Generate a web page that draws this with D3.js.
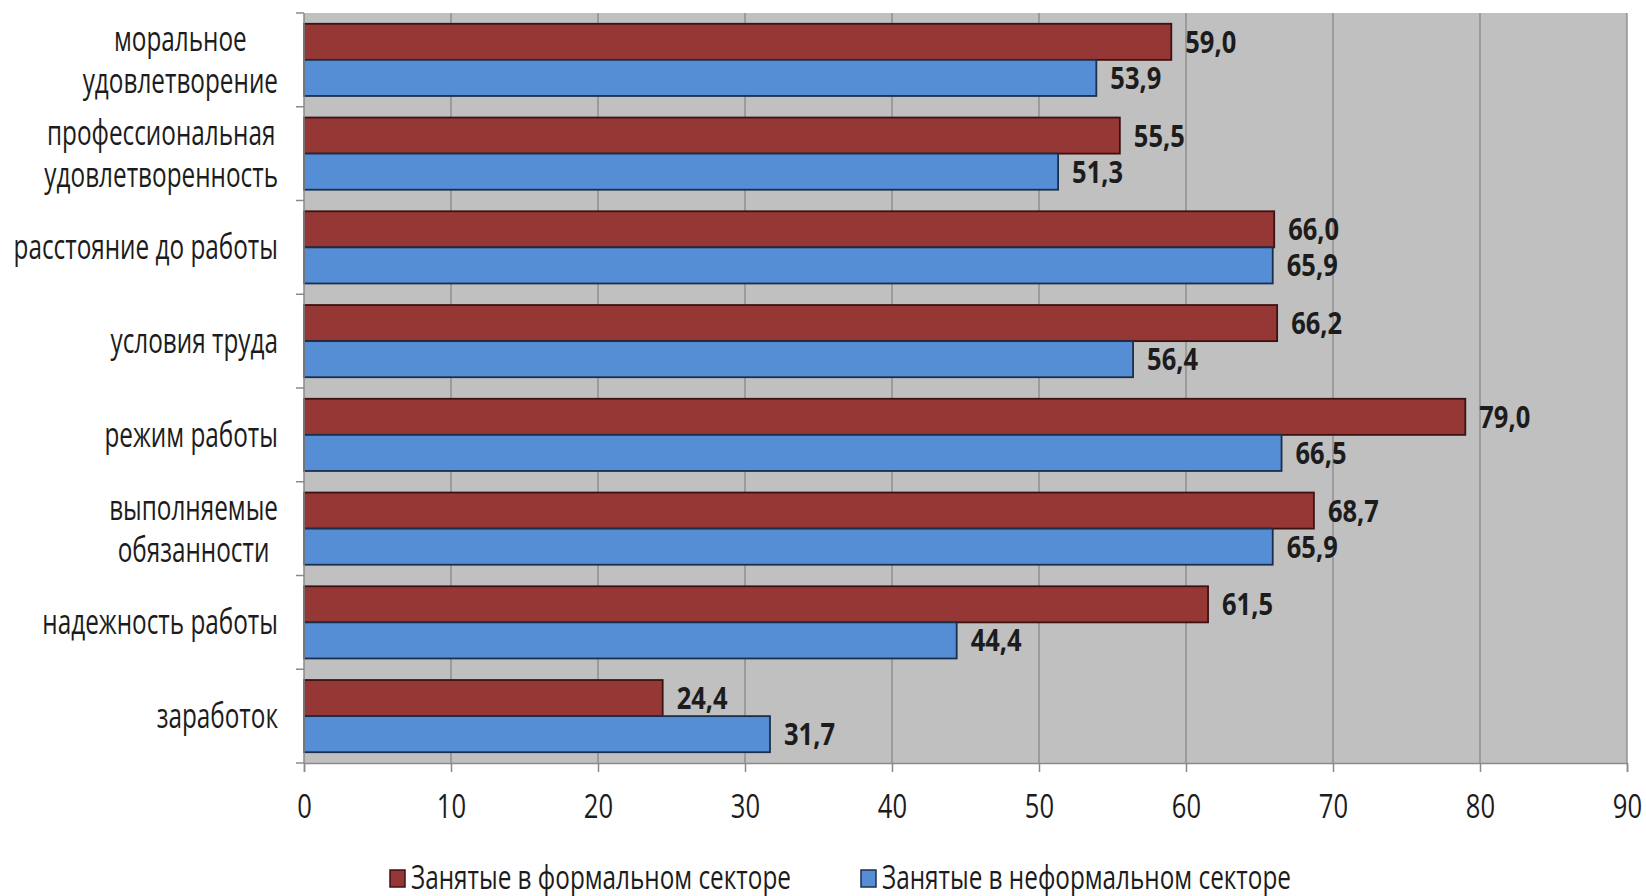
<!DOCTYPE html>
<html>
<head>
<meta charset="utf-8">
<script src="https://cdn.jsdelivr.net/npm/d3@7"></script>
<style>
  html, body { margin: 0; padding: 0; background: #ffffff; }
  svg { display: block; }
  text { font-family: "Open Sans", "Noto Sans", sans-serif; fill: #1c1c1c; }
</style>
</head>
<body>
<svg id="chart" width="1646" height="896"></svg>
<script>
const categories = [
  ["моральное", "удовлетворение"],
  ["профессиональная", "удовлетворенность"],
  ["расстояние до работы"],
  ["условия труда"],
  ["режим работы"],
  ["выполняемые", "обязанности"],
  ["надежность работы"],
  ["заработок"]
];
const formalValues   = [59.0, 55.5, 66.0, 66.2, 79.0, 68.7, 61.5, 24.4];
const informalValues = [53.9, 51.3, 65.9, 56.4, 66.5, 65.9, 44.4, 31.7];
const seriesNames = ["Занятые в формальном секторе", "Занятые в неформальном секторе"];
const xTicks = [0, 10, 20, 30, 40, 50, 60, 70, 80, 90];

const fills   = ["#953735", "#558ed5"];
const strokes = ["#3d1212", "#1b2f4d"];

const svg = d3.select("#chart");
const plot = { left: 304, right: 1627, top: 13, bottom: 763 };

// place a text at (px,py) horizontally squeezed by sx
function placeSqueezed(t, px, py, sx) {
  t.attr("x", 0).attr("y", 0).attr("transform", `translate(${px},${py}) scale(${sx},1)`);
}

const x = d3.scaleLinear().domain([0, 90]).range([plot.left, plot.right]);
const catIdx = categories.map((d, i) => i);
const y = d3.scaleBand().domain(catIdx).range([plot.top, plot.bottom])
  .paddingInner(0.23).paddingOuter(0.115);
const ySeries = d3.scaleBand().domain([0, 1]).range([0, y.bandwidth()]).padding(0);

// background
svg.append("rect")
  .attr("x", plot.left).attr("y", plot.top)
  .attr("width", plot.right - plot.left).attr("height", plot.bottom - plot.top)
  .attr("fill", "#c0c0c0");

// gridlines
svg.append("g").selectAll("line").data(xTicks.filter(t => t > 0)).join("line")
  .attr("x1", d => x(d)).attr("x2", d => x(d))
  .attr("y1", plot.top).attr("y2", plot.bottom)
  .attr("stroke", "#888888").attr("stroke-width", 1.3);

// bars
const series = [formalValues, informalValues];
const gCat = svg.append("g").selectAll("g").data(catIdx).join("g")
  .attr("transform", d => `translate(0,${y(d)})`);

gCat.selectAll("rect").data(ci => series.map((vals, si) => ({ si, v: vals[ci] }))).join("rect")
  .attr("x", x(0))
  .attr("y", d => ySeries(d.si))
  .attr("width", d => x(d.v) - x(0))
  .attr("height", ySeries.bandwidth())
  .attr("fill", d => fills[d.si])
  .attr("stroke", d => strokes[d.si])
  .attr("stroke-width", 1.8);

// value labels
gCat.selectAll("text.val").data(ci => series.map((vals, si) => ({ si, v: vals[ci] }))).join("text")
  .attr("class", "val")
  .attr("dominant-baseline", "middle")
  .attr("font-size", 30)
  .attr("font-weight", "bold")
  .text(d => d.v.toFixed(1).replace(".", ","))
  .each(function(d) {
    placeSqueezed(d3.select(this), x(d.v) + 14, ySeries(d.si) + ySeries.bandwidth() / 2 + 3, 0.85);
  });

// x axis
const xAxis = d3.axisBottom(x).tickValues(xTicks).tickSize(9).tickPadding(23)
  .tickFormat(d3.format("d"));
const gx = svg.append("g").attr("transform", `translate(0,${plot.bottom})`).call(xAxis);
gx.attr("font-family", null).attr("font-size", null);
gx.select(".domain").attr("stroke", "#8a8a8a").attr("stroke-width", 1.5);
gx.selectAll(".tick line").attr("stroke", "#8a8a8a").attr("stroke-width", 1.5);
gx.selectAll(".tick text").attr("font-size", 32).attr("fill", "#1c1c1c")
  .attr("transform", "scale(0.8,1)");

// y axis line and boundary ticks
svg.append("line")
  .attr("x1", plot.left).attr("x2", plot.left)
  .attr("y1", plot.top).attr("y2", plot.bottom)
  .attr("stroke", "#8a8a8a").attr("stroke-width", 1.5);
const boundaries = catIdx.map(i => y(i) - y.step() * y.paddingOuter()).concat([plot.bottom]);
svg.append("g").selectAll("line").data(boundaries).join("line")
  .attr("x1", plot.left - 8).attr("x2", plot.left)
  .attr("y1", d => d).attr("y2", d => d)
  .attr("stroke", "#8a8a8a").attr("stroke-width", 1.5);

// category labels
const labelRight = 278;
const lineGap = 42;
const labelSx = 0.715;
const gLab = svg.append("g");
catIdx.forEach(i => {
  const lines = categories[i];
  const cy = y(i) + y.bandwidth() / 2 + 3;
  const texts = lines.map((ln, k) => gLab.append("text")
    .attr("font-size", 34)
    .attr("dominant-baseline", "middle")
    .attr("text-anchor", "middle")
    .text(ln));
  const maxW = d3.max(texts, t => t.node().getComputedTextLength()) * labelSx;
  texts.forEach((t, k) => placeSqueezed(t, labelRight - maxW / 2,
    cy + (k - (lines.length - 1) / 2) * lineGap, labelSx));
});

// legend
const legendY = 879;
const legendX = [390, 861];
const gLeg = svg.append("g");
seriesNames.forEach((name, i) => {
  gLeg.append("rect")
    .attr("x", legendX[i]).attr("y", legendY - 9)
    .attr("width", 15).attr("height", 17)
    .attr("fill", fills[i]).attr("stroke", strokes[i]).attr("stroke-width", 1.5);
  const t = gLeg.append("text")
    .attr("dominant-baseline", "middle")
    .attr("font-size", 32)
    .text(name);
  placeSqueezed(t, legendX[i] + 21, legendY + 1, 0.76);
});
</script>
</body>
</html>
